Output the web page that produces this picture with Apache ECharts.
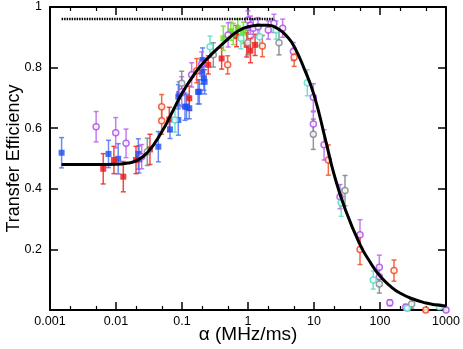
<!DOCTYPE html>
<html>
<head>
<meta charset="utf-8">
<script src="https://cdn.jsdelivr.net/npm/echarts@6/dist/echarts.min.js"></script>
<style>
  html, body { margin: 0; padding: 0; background: #fff; }
  #chart { width: 463px; height: 349px; }
</style>
</head>
<body>
<div id="chart"></div>
<script>
// tick labels
var xTickLabels = ["0.001", "0.01", "0.1", "1", "10", "100", "1000"];
var xMinorTicks = [0.002, 0.005, 0.02, 0.05, 0.2, 0.5, 2, 5, 20, 50, 200, 500];

// fitted curve
var curveX = [0.0015, 0.005, 0.01, 0.015, 0.02, 0.03, 0.05, 0.07, 0.1, 0.15, 0.2, 0.3, 0.5, 0.7, 1, 1.5, 2, 3, 4, 5, 7, 10, 15, 20, 30, 50, 70, 100, 150, 200, 300, 500, 700, 1000];
var curveY = [0.48, 0.48, 0.481, 0.485, 0.492, 0.52, 0.59, 0.65, 0.715, 0.775, 0.81, 0.85, 0.895, 0.92, 0.935, 0.94, 0.94, 0.925, 0.9, 0.87, 0.8, 0.71, 0.56, 0.45, 0.33, 0.215, 0.16, 0.112, 0.075, 0.056, 0.038, 0.023, 0.017, 0.013];

// dotted reference level
var refX = [0.0015, 2.5];
var refY = [0.96, 0.96];

// measured points: [alpha, efficiency, error]
var blueSquares = [
  [0.0015, 0.519, 0.05], [0.0077, 0.515, 0.045], [0.0108, 0.499, 0.05],
  [0.0218, 0.515, 0.05], [0.0223, 0.497, 0.045], [0.0438, 0.539, 0.05],
  [0.0658, 0.596, 0.03], [0.088, 0.627, 0.05], [0.088, 0.704, 0.04],
  [0.091, 0.713, 0.04], [0.111, 0.671, 0.045], [0.117, 0.671, 0.04],
  [0.129, 0.666, 0.035], [0.175, 0.72, 0.04], [0.183, 0.72, 0.04],
  [0.198, 0.786, 0.04], [0.205, 0.825, 0.04], [0.215, 0.765, 0.04],
  [0.22, 0.753, 0.04]
];
var redSquares = [
  [0.0064, 0.466, 0.05], [0.0093, 0.495, 0.045], [0.0129, 0.44, 0.05],
  [0.0201, 0.495, 0.045], [0.0327, 0.53, 0.05], [0.0642, 0.629, 0.04],
  [0.129, 0.699, 0.04], [0.25, 0.809, 0.03], [0.399, 0.83, 0.035],
  [0.67, 0.904, 0.035], [0.955, 0.875, 0.04], [1.09, 0.856, 0.04],
  [1.28, 0.875, 0.035]
];
var orangeCircles = [
  [0.0492, 0.625, 0.045], [0.0492, 0.671, 0.04], [0.167, 0.79, 0.04],
  [0.492, 0.809, 0.03], [1.65, 0.871, 0.035], [5.0, 0.834, 0.03],
  [16.5, 0.495, 0.05], [49.8, 0.2, 0.05], [163, 0.13, 0.035], [493, 0.0, 0.005]
];
var purpleCircles = [
  [0.005, 0.605, 0.05], [0.0099, 0.585, 0.05], [0.0142, 0.55, 0.047],
  [0.0245, 0.506, 0.04], [0.099, 0.72, 0.05], [0.14, 0.776, 0.04],
  [0.199, 0.812, 0.04], [0.5, 0.908, 0.04], [1.0, 0.957, 0.03],
  [1.09, 0.94, 0.03], [1.2, 0.93, 0.03], [1.42, 0.935, 0.03],
  [2.03, 0.924, 0.03], [2.47, 0.946, 0.03], [3.35, 0.93, 0.03],
  [4.86, 0.853, 0.03], [9.77, 0.702, 0.045], [9.77, 0.614, 0.04],
  [14.2, 0.545, 0.05], [24.8, 0.374, 0.04], [49.8, 0.248, 0.05],
  [97.7, 0.141, 0.04], [97.7, 0.11, 0.03], [141, 0.024, 0.01],
  [245, 0.009, 0.01], [1000, 0.0, 0.005]
];
var grayCircles = [
  [0.0298, 0.522, 0.045], [0.099, 0.748, 0.04], [0.298, 0.842, 0.04],
  [0.99, 0.882, 0.04], [2.95, 0.882, 0.04], [9.77, 0.58, 0.05],
  [29.5, 0.394, 0.05], [97.7, 0.086, 0.03], [302, 0.02, 0.015]
];
var cyanCircles = [
  [0.0783, 0.627, 0.04], [0.266, 0.869, 0.035], [0.78, 0.897, 0.035],
  [1.5, 0.902, 0.03], [2.66, 0.924, 0.03], [7.92, 0.75, 0.043],
  [25.8, 0.354, 0.045], [79, 0.099, 0.03], [260, 0.006, 0.008], [794, 0.011, 0.008]
];
var greenSquares = [
  [0.423, 0.897, 0.04], [0.55, 0.92, 0.03], [0.599, 0.911, 0.035],
  [0.7, 0.93, 0.03], [0.85, 0.915, 0.035]
];

var FONT = "'Liberation Sans', Arial, sans-serif";

function zip(xs, ys) {
  return xs.map(function (x, i) { return [x, ys[i]]; });
}

function errorBars(data, color) {
  return {
    type: "custom",
    data: data,
    z: 2,
    renderItem: function (params, api) {
      var x = api.value(0), y = api.value(1), e = api.value(2);
      var top = api.coord([x, y + e]);
      var bot = api.coord([x, y - e]);
      var style = { stroke: color, lineWidth: 1.5 };
      return {
        type: "group",
        children: [
          { type: "line", shape: { x1: top[0], y1: top[1], x2: bot[0], y2: bot[1] }, style: style },
          { type: "line", shape: { x1: top[0] - 2.5, y1: top[1], x2: top[0] + 2.5, y2: top[1] }, style: style },
          { type: "line", shape: { x1: bot[0] - 2.5, y1: bot[1], x2: bot[0] + 2.5, y2: bot[1] }, style: style }
        ]
      };
    }
  };
}

function points(data, color, filled) {
  return {
    type: "scatter",
    data: data.map(function (d) { return [d[0], d[1]]; }),
    symbol: filled ? "rect" : "circle",
    symbolSize: 6,
    z: 3,
    itemStyle: filled
      ? { color: color }
      : { color: "#fff", borderColor: color, borderWidth: 1.5 }
  };
}

var groups = [
  [blueSquares, "#1e4ff0", "rgba(70,110,240,0.8)", true],
  [redSquares, "#ee1414", "rgba(238,40,40,0.85)", true],
  [greenSquares, "#5ee01c", "rgba(110,225,40,0.85)", true],
  [purpleCircles, "#a848e8", "rgba(190,100,240,0.85)", false],
  [orangeCircles, "#f0401c", "rgba(240,80,40,0.85)", false],
  [grayCircles, "#7a8787", "rgba(120,135,135,0.85)", false],
  [cyanCircles, "#4fdcc4", "rgba(90,225,200,0.85)", false]
];

var series = [];
groups.forEach(function (g) {
  series.push(errorBars(g[0], g[2]));
});
groups.forEach(function (g) {
  series.push(points(g[0], g[1], g[3]));
});
series.push({
  type: "line",
  data: zip(curveX, curveY),
  smooth: true,
  showSymbol: false,
  z: 5,
  lineStyle: { color: "#000", width: 3 }
});
series.push({
  type: "line",
  data: zip(refX, refY),
  showSymbol: false,
  z: 4,
  lineStyle: { color: "#000", width: 2.5, type: [1.5, 1] }
});

var axisLine = { show: true, lineStyle: { color: "#000", width: 2 } };

function logAxis(position, major, showLabel) {
  return {
    type: "log",
    logBase: 10,
    position: position,
    min: 0.001,
    max: 1000,
    axisLine: major ? axisLine : { show: false },
    splitLine: { show: false },
    axisTick: major
      ? { inside: true, length: 8, lineStyle: { color: "#000", width: 1.5 } }
      : { inside: true, length: 4, customValues: xMinorTicks, lineStyle: { color: "#000", width: 1.2 } },
    axisLabel: showLabel
      ? {
          color: "#000",
          fontSize: 12.5,
          fontFamily: FONT,
          margin: 5,
          formatter: function (v) { return xTickLabels[Math.round(Math.log10(v)) + 3]; }
        }
      : { show: false },
    name: showLabel ? "α (MHz/ms)" : "",
    nameLocation: "middle",
    nameGap: 15,
    nameMoveOverlap: false,
    nameTextStyle: { color: "#000", fontSize: 19, fontFamily: FONT, verticalAlign: "top" }
  };
}

var chart = echarts.init(document.getElementById("chart"));
chart.setOption({
  animation: false,
  backgroundColor: "#fff",
  grid: { left: 50, right: 17, top: 7, bottom: 39, containLabel: false, outerBoundsMode: "none" },
  xAxis: [
    logAxis("bottom", true, true),
    logAxis("bottom", false, false),
    logAxis("top", true, false),
    logAxis("top", false, false)
  ],
  yAxis: [
    {
      type: "value",
      position: "left",
      min: 0,
      max: 1,
      interval: 0.2,
      axisLine: axisLine,
      splitLine: { show: false },
      axisTick: { inside: true, length: 8, lineStyle: { color: "#000", width: 1.5 } },
      axisLabel: {
        color: "#000",
        fontSize: 12.5,
        fontFamily: FONT,
        margin: 8,
        formatter: function (v) { return v === 0 ? "" : (v === 1 ? "1" : v.toFixed(1)); }
      },
      name: "Transfer Efficiency",
      nameLocation: "middle",
      nameGap: 27,
      nameMoveOverlap: false,
      nameTextStyle: { color: "#000", fontSize: 18, fontFamily: FONT }
    },
    {
      type: "value",
      position: "right",
      min: 0,
      max: 1,
      interval: 0.2,
      axisLine: axisLine,
      splitLine: { show: false },
      axisTick: { inside: true, length: 8, lineStyle: { color: "#000", width: 1.5 } },
      axisLabel: { show: false }
    }
  ],
  series: series
});
</script>
</body>
</html>
